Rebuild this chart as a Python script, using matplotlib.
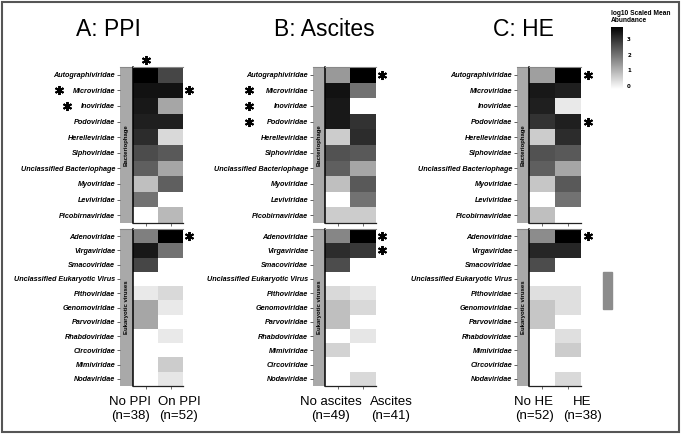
import numpy as np
import matplotlib
matplotlib.use('Agg')
import matplotlib.pyplot as plt
from matplotlib.colors import LinearSegmentedColormap, Normalize
from matplotlib.patches import Rectangle

nan = np.nan

# ---- data -------------------------------------------------------------
bact_rows = ['Autographiviridae', 'Microviridae', 'Inoviridae', 'Podoviridae',
             'Herelleviridae', 'Siphoviridae', 'Unclassified Bacteriophage',
             'Myoviridae', 'Leviviridae', 'Picobirnaviridae']
euk_rows_a = ['Adenoviridae', 'Virgaviridae', 'Smacoviridae',
              'Unclassified Eukaryotic Virus', 'Pithoviridae', 'Genomoviridae',
              'Parvoviridae', 'Rhabdoviridae', 'Circoviridae', 'Mimiviridae',
              'Nodaviridae']
euk_rows_bc = ['Adenoviridae', 'Virgaviridae', 'Smacoviridae',
               'Unclassified Eukaryotic Virus', 'Pithoviridae', 'Genomoviridae',
               'Parvoviridae', 'Rhabdoviridae', 'Mimiviridae', 'Circoviridae',
               'Nodaviridae']

# log10 scaled mean abundance, columns = (group 1, group 2)
ppi_bact = [[3.8, 2.7], [3.5, 3.5], [3.4, 1.2], [3.3, 3.3], [3.1, 0.4],
            [2.6, 2.4], [2.3, 1.2], [0.8, 2.3], [2.0, nan], [nan, 0.9]]
ppi_euk = [[1.8, 3.9], [3.4, 2.0], [2.7, nan], [nan, nan], [0.15, 0.4],
           [1.2, 0.15], [1.2, nan], [nan, 0.15], [nan, nan], [nan, 0.6],
           [nan, 0.2]]

asc_bact = [[1.4, 3.9], [3.5, 2.0], [3.4, nan], [3.4, 3.0], [0.6, 3.1],
            [2.5, 2.4], [2.3, 1.2], [0.8, 2.4], [nan, 2.0], [0.6, 0.6]]
asc_euk = [[1.7, 3.9], [3.1, 2.9], [2.6, nan], [nan, nan], [0.4, 0.2],
           [0.8, 0.4], [0.8, nan], [nan, 0.2], [0.5, nan], [nan, nan],
           [nan, 0.4]]

he_bact = [[1.3, 3.8], [3.4, 3.3], [3.3, 0.15], [3.0, 3.3], [0.6, 3.1],
           [2.5, 2.4], [2.3, 1.2], [0.7, 2.4], [nan, 2.0], [0.8, nan]]
he_euk = [[1.6, 3.9], [3.2, 3.2], [2.6, nan], [nan, nan], [0.3, 0.3],
          [0.7, 0.3], [0.7, nan], [nan, 0.3], [nan, 0.6], [nan, nan],
          [nan, 0.4]]

titles = ['A: PPI', 'B: Ascites', 'C: HE']
group_labels = [['No PPI\n(n=38)', 'On PPI\n(n=52)'],
                ['No ascites\n(n=49)', 'Ascites\n(n=41)'],
                ['No HE\n(n=52)', 'HE\n(n=38)']]

# significance stars: (facet, row, column position)
stars_a = [('bact', -0.95, 0), ('bact', 1, -3.48), ('bact', 2, -3.14),
           ('bact', 1, 1.75), ('euk', 0, 1.75)]
stars_b = [('bact', 0, 1.74), ('bact', 1, -3.5), ('bact', 2, -3.5),
           ('bact', 3, -3.5), ('euk', 0, 1.74), ('euk', 1, 1.74)]
stars_c = [('bact', 0, 1.77), ('bact', 3, 1.77), ('euk', 0, 1.77)]

# ---- figure -----------------------------------------------------------
W, H = 681, 434
fig = plt.figure(figsize=(W / 100, H / 100), dpi=100)


def px_axes(l, t, r, b):
    return fig.add_axes([l / W, 1 - b / H, (r - l) / W, (b - t) / H])


cmap = LinearSegmentedColormap.from_list('wb', ['#ffffff', '#000000'])
norm = Normalize(vmin=-0.2, vmax=3.8)

lab_font = dict(family='Liberation Sans', fontsize=5.2, fontweight='bold',
                fontstyle='italic')

panels = [
    dict(bact=ppi_bact, euk=ppi_euk, euk_rows=euk_rows_a, stars=stars_a,
         strip=(120, 133), heat=(133, 183), title_x=108, lab_x=(130, 179)),
    dict(bact=asc_bact, euk=asc_euk, euk_rows=euk_rows_bc, stars=stars_b,
         strip=(313, 325), heat=(325, 376), title_x=324, lab_x=(331, 391)),
    dict(bact=he_bact, euk=he_euk, euk_rows=euk_rows_bc, stars=stars_c,
         strip=(517, 529), heat=(529, 581), title_x=523, lab_x=(534, 582)),
]
facets = [('bact', 67, 223, 'Bacteriophage'),
          ('euk', 229, 386, 'Eukaryotic viruses')]

im = None
for i, p in enumerate(panels):
    heat_axes = {}
    for key, top, bot, strip_txt in facets:
        rows = bact_rows if key == 'bact' else p['euk_rows']
        vals = np.array(p[key], dtype=float)
        n = len(rows)

        sax = px_axes(p['strip'][0], top, p['strip'][1], bot)
        sax.set_facecolor('#a9a9a9')
        sax.set_xlim(0, 1)
        sax.set_ylim(n - 0.5, -0.5)
        sax.set_xticks([])
        sax.set_yticks(range(n))
        sax.set_yticklabels(rows, **lab_font)
        sax.tick_params(axis='y', length=2.2, width=0.6, color='#444', pad=1.2)
        for s in ['left', 'right', 'bottom']:
            sax.spines[s].set_visible(False)
        sax.spines['top'].set_color('#888')
        sax.spines['top'].set_linewidth(0.8)
        sax.text(0.5, (n - 1) / 2, strip_txt, rotation=90, ha='center',
                 va='center', fontsize=4.3, fontweight='bold',
                 family='Liberation Sans')

        ax = px_axes(p['heat'][0], top, p['heat'][1], bot)
        im = ax.imshow(vals, cmap=cmap, norm=norm, aspect='auto',
                       interpolation='nearest',
                       extent=(-0.5, 1.5, n - 0.5, -0.5))
        ax.set_xlim(-0.5, 1.5)
        ax.set_ylim(n - 0.5, -0.5)
        ax.set_yticks([])
        ax.set_xticks([0, 1])
        ax.set_xticklabels([])
        ax.tick_params(axis='x', length=2, width=0.6, color='#555')
        ax.spines['right'].set_visible(False)
        ax.spines['top'].set_color('#888')
        ax.spines['top'].set_linewidth(0.8)
        ax.spines['left'].set_color('black')
        ax.spines['left'].set_linewidth(1.1)
        ax.spines['bottom'].set_color('#222')
        ax.spines['bottom'].set_linewidth(0.9)
        heat_axes[key] = ax

    for key, row, xpos in p['stars']:
        heat_axes[key].plot(xpos, row, marker=(6, 2, 0), ms=6.5, mew=1.4,
                            color='black', clip_on=False)

    fig.text(p['title_x'] / W, 1 - 30 / H, titles[i], ha='center',
             va='center', fontsize=16.5, family='Liberation Sans')
    for j, lab in enumerate(group_labels[i]):
        fig.text(p['lab_x'][j] / W, 1 - 409 / H, lab, ha='center',
                 va='center', fontsize=9.5, family='Liberation Sans',
                 linespacing=1.15)

# colour bar
cax = px_axes(611, 27, 623, 89)
cb = fig.colorbar(im, cax=cax, ticks=[0, 1, 2, 3])
cb.outline.set_visible(False)
cax.tick_params(length=0, pad=3)
for t in cax.get_yticklabels():
    t.set_fontsize(4)
    t.set_fontweight('bold')
fig.text(611 / W, 1 - 10 / H, 'log10 Scaled Mean\nAbundance', ha='left',
         va='top', fontsize=4.8, fontweight='bold', family='Liberation Sans',
         linespacing=1.0)

# stray grey block and outer frame
fig.patches.append(Rectangle((603 / W, 1 - 309 / H), 9 / W, 37 / H,
                             transform=fig.transFigure, color='#8c8c8c'))
fig.patches.append(Rectangle((1.5 / W, 2 / H), (W - 3.5) / W, (H - 3.5) / H,
                             transform=fig.transFigure, fill=False,
                             edgecolor='#555', lw=1.5))

fig.savefig('out.png', dpi=100)
